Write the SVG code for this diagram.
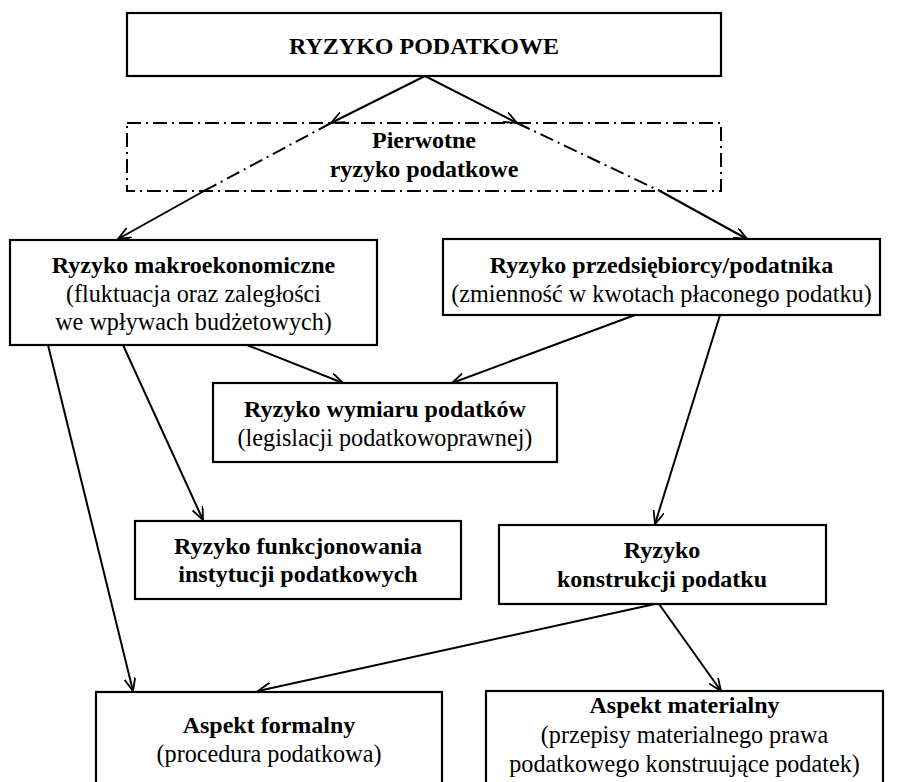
<svg xmlns="http://www.w3.org/2000/svg" width="898" height="782" viewBox="0 0 898 782">
<style>
  .box{fill:#fff;stroke:#000;stroke-width:2.2}
  .dd{fill:none;stroke:#000;stroke-width:2;stroke-dasharray:14 5 2 5}
  text{font-family:"Liberation Serif","Times New Roman",serif;font-size:24.2px;fill:#000;text-anchor:middle}
  .b{font-weight:bold;font-size:24px}
  .c{fill:none;stroke:#000;stroke-width:2}
  .cd{fill:none;stroke:#000;stroke-width:2;stroke-dasharray:14 5 2 5}
</style>
<defs>
  <marker id="ah" markerUnits="userSpaceOnUse" markerWidth="16" markerHeight="12" refX="13" refY="5.5" orient="auto">
    <path d="M0,0 L13,5.5 L0,11" fill="none" stroke="#000" stroke-width="1.8"/>
  </marker>
</defs>
<rect width="898" height="782" fill="#fff"/>

<g id="connectors">
  <line class="c" x1="425" y1="76" x2="331" y2="123" marker-end="url(#ah)"/>
  <line class="cd" x1="331" y1="123" x2="204" y2="191"/>
  <line class="c" x1="204" y1="191" x2="118" y2="239" marker-end="url(#ah)"/>
  <line class="c" x1="425" y1="76" x2="517" y2="123" marker-end="url(#ah)"/>
  <line class="cd" x1="517" y1="123" x2="660" y2="191"/>
  <line class="c" x1="660" y1="191" x2="747" y2="239" marker-end="url(#ah)"/>
  <line class="c" x1="48" y1="345" x2="133" y2="691" marker-end="url(#ah)"/>
  <line class="c" x1="123" y1="345" x2="203" y2="520" marker-end="url(#ah)"/>
  <line class="c" x1="247" y1="345" x2="343" y2="383" marker-end="url(#ah)"/>
  <line class="c" x1="635" y1="315" x2="452" y2="383" marker-end="url(#ah)"/>
  <line class="c" x1="720" y1="315" x2="655" y2="524" marker-end="url(#ah)"/>
  <line class="c" x1="655" y1="604" x2="258" y2="691" marker-end="url(#ah)"/>
  <line class="c" x1="659" y1="604" x2="721" y2="691" marker-end="url(#ah)"/>
</g>

<g id="ryzyko-podatkowe">
  <rect class="box" x="127" y="13" width="594" height="63" stroke-width="2.6"/>
  <text class="b" x="424" y="54">RYZYKO PODATKOWE</text>
</g>

<g id="pierwotne">
  <rect class="dd" x="127" y="123" width="594" height="68"/>
  <text class="b" x="424" y="148">Pierwotne</text>
  <text class="b" x="424" y="177">ryzyko podatkowe</text>
</g>

<g id="makro">
  <rect class="box" x="10" y="240" width="367" height="105"/>
  <text class="b" x="193.5" y="273">Ryzyko makroekonomiczne</text>
  <text x="193.5" y="302">(fluktuacja oraz zaległości</text>
  <text x="193.5" y="330">we wpływach budżetowych)</text>
</g>

<g id="przedsiebiorcy">
  <rect class="box" x="443" y="239" width="437" height="76"/>
  <text class="b" x="661.5" y="273">Ryzyko przedsiębiorcy/podatnika</text>
  <text x="661.5" y="302">(zmienność w kwotach płaconego podatku)</text>
</g>

<g id="wymiaru">
  <rect class="box" x="213" y="383" width="344" height="79"/>
  <text class="b" x="385" y="417">Ryzyko wymiaru podatków</text>
  <text x="385" y="446">(legislacji podatkowoprawnej)</text>
</g>

<g id="funkcjonowania">
  <rect class="box" x="135" y="521" width="326" height="78"/>
  <text class="b" x="298" y="554">Ryzyko funkcjonowania</text>
  <text class="b" x="298" y="582">instytucji podatkowych</text>
</g>

<g id="konstrukcji">
  <rect class="box" x="499" y="525" width="327" height="79"/>
  <text class="b" x="662" y="558">Ryzyko</text>
  <text class="b" x="662" y="587">konstrukcji podatku</text>
</g>

<g id="formalny">
  <rect class="box" x="96" y="692" width="346" height="100"/>
  <text class="b" x="269" y="733">Aspekt formalny</text>
  <text x="269" y="762">(procedura podatkowa)</text>
</g>

<g id="materialny">
  <rect class="box" x="486" y="691" width="397" height="100"/>
  <text class="b" x="684.5" y="713">Aspekt materialny</text>
  <text x="684.5" y="743">(przepisy materialnego prawa</text>
  <text x="684.5" y="772">podatkowego konstruujące podatek)</text>
</g>
</svg>
